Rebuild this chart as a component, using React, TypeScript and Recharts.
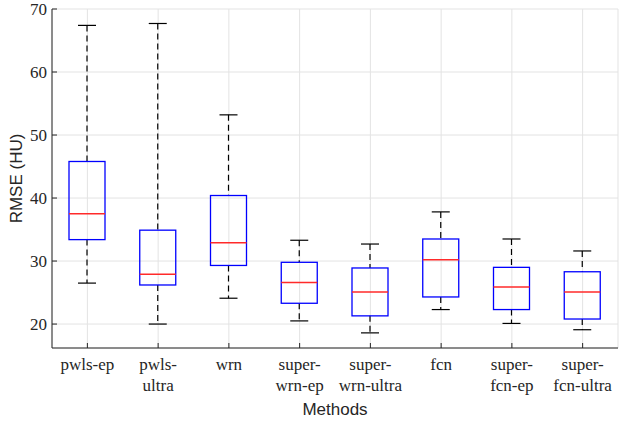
import React from 'react';
import { ComposedChart, Bar, XAxis, YAxis, CartesianGrid } from 'recharts';

const methods = ['pwls-ep', 'pwls-ultra', 'wrn', 'super-wrn-ep', 'super-wrn-ultra', 'fcn', 'super-fcn-ep', 'super-fcn-ultra'];
const tickLabels = ['pwls-ep', 'pwls-\nultra', 'wrn', 'super-\nwrn-ep', 'super-\nwrn-ultra', 'fcn', 'super-\nfcn-ep', 'super-\nfcn-ultra'];
const whiskerMax = [67.4, 67.7, 53.2, 33.3, 32.7, 37.8, 33.5, 31.6];
const q3 = [45.8, 34.9, 40.4, 29.8, 28.9, 33.5, 29.0, 28.3];
const median = [37.5, 27.9, 32.9, 26.6, 25.1, 30.2, 25.9, 25.1];
const q1 = [33.4, 26.2, 29.3, 23.3, 21.3, 24.3, 22.3, 20.8];
const whiskerMin = [26.5, 20.0, 24.1, 20.5, 18.6, 22.3, 20.1, 19.1];
const yTicks = [20, 30, 40, 50, 60, 70];

const data = methods.map((name, i) => ({
  name,
  range: [whiskerMin[i], whiskerMax[i]],
  min: whiskerMin[i],
  q1: q1[i],
  median: median[i],
  q3: q3[i],
  max: whiskerMax[i],
}));

const AXIS = '#262626';
const SERIF = "'Liberation Serif', 'DejaVu Serif', serif";
const SANS = "'Liberation Sans', Arial, sans-serif";

const BoxShape = (props: any) => {
  const { x, y, width, height, payload } = props;
  const top = Math.min(y, y + height);
  const bottom = Math.max(y, y + height);
  const span = payload.max - payload.min;
  // map a value onto the pixel range of the min..max bar
  const py = (v: number) => top + ((payload.max - v) / span) * (bottom - top);
  const cx = x + width / 2;
  const capHalf = width / 4;
  return (
    <g>
      <line x1={cx} x2={cx} y1={py(payload.max)} y2={py(payload.q3)} stroke="#000" strokeWidth={1.2} strokeDasharray="6 4" />
      <line x1={cx} x2={cx} y1={py(payload.q1)} y2={py(payload.min)} stroke="#000" strokeWidth={1.2} strokeDasharray="6 4" />
      <line x1={cx - capHalf} x2={cx + capHalf} y1={py(payload.max)} y2={py(payload.max)} stroke="#000" strokeWidth={1.2} />
      <line x1={cx - capHalf} x2={cx + capHalf} y1={py(payload.min)} y2={py(payload.min)} stroke="#000" strokeWidth={1.2} />
      <rect x={x} y={py(payload.q3)} width={width} height={py(payload.q1) - py(payload.q3)} fill="none" stroke="#0000ff" strokeWidth={1.3} />
      <line x1={x} x2={x + width} y1={py(payload.median)} y2={py(payload.median)} stroke="#ff2a2a" strokeWidth={1.5} />
    </g>
  );
};

const YTick = (props: any) => {
  const { x, y, payload } = props;
  return (
    <g>
      <line x1={x} x2={x + 5} y1={y} y2={y} stroke={AXIS} strokeWidth={1} />
      <text x={x - 5} y={y} dy="0.35em" textAnchor="end" style={{ fontFamily: SERIF, fontSize: 17 }} fill={AXIS}>
        {payload.value}
      </text>
    </g>
  );
};

const XTick = (props: any) => {
  const { x, y, payload, index } = props;
  const lines = (tickLabels[index] ?? String(payload.value)).split('\n');
  return (
    <g>
      <line x1={x} x2={x} y1={y} y2={y - 5} stroke={AXIS} strokeWidth={1} />
      <text textAnchor="middle" style={{ fontFamily: SERIF, fontSize: 17 }} fill={AXIS}>
        {lines.map((ln: string, i: number) => (
          <tspan key={i} x={x} y={y + 22 + i * 21}>{ln}</tspan>
        ))}
      </text>
    </g>
  );
};

const YLabel = (props: any) => {
  const { viewBox } = props;
  const cx = viewBox.x + 16;
  const cy = viewBox.y + viewBox.height / 2;
  return (
    <text x={cx} y={cy} transform={`rotate(-90, ${cx}, ${cy})`} textAnchor="middle" dominantBaseline="central" style={{ fontFamily: SANS, fontSize: 17 }} fill={AXIS}>
      RMSE (HU)
    </text>
  );
};

export default function App() {
  return (
    <div style={{ position: 'absolute', left: 0, top: 0, width: 621, height: 422, background: '#fff' }}>
      <ComposedChart width={621} height={422} data={data} margin={{ top: 9, right: 3, left: 0, bottom: 0 }}>
        <CartesianGrid stroke="#e3e3e3" strokeWidth={1} />
        <XAxis
          dataKey="name"
          type="category"
          height={74}
          stroke={AXIS}
          tickLine={false}
          tickSize={0}
          tickMargin={0}
          interval={0}
          tick={<XTick />}
          label={{ value: 'Methods', position: 'insideBottom', offset: 7, style: { fontFamily: SANS, fontSize: 17 }, fill: AXIS }}
        />
        <XAxis
          xAxisId="top"
          dataKey="name"
          orientation="top"
          height={0}
          mirror
          stroke={AXIS}
          tickSize={5}
          tick={false}
          interval={0}
        />
        <YAxis
          domain={[16.2, 70]}
          ticks={yTicks}
          width={52}
          stroke={AXIS}
          tickLine={false}
          tickSize={0}
          tickMargin={0}
          tick={<YTick />}
          allowDataOverflow
          label={<YLabel />}
        />
        <YAxis
          yAxisId="right"
          orientation="right"
          domain={[16.2, 70]}
          ticks={yTicks}
          width={0}
          mirror
          stroke={AXIS}
          tickSize={5}
          tick={false}
          allowDataOverflow
        />
        <Bar dataKey="range" barSize={36} shape={<BoxShape />} isAnimationActive={false} />
      </ComposedChart>
    </div>
  );
}
